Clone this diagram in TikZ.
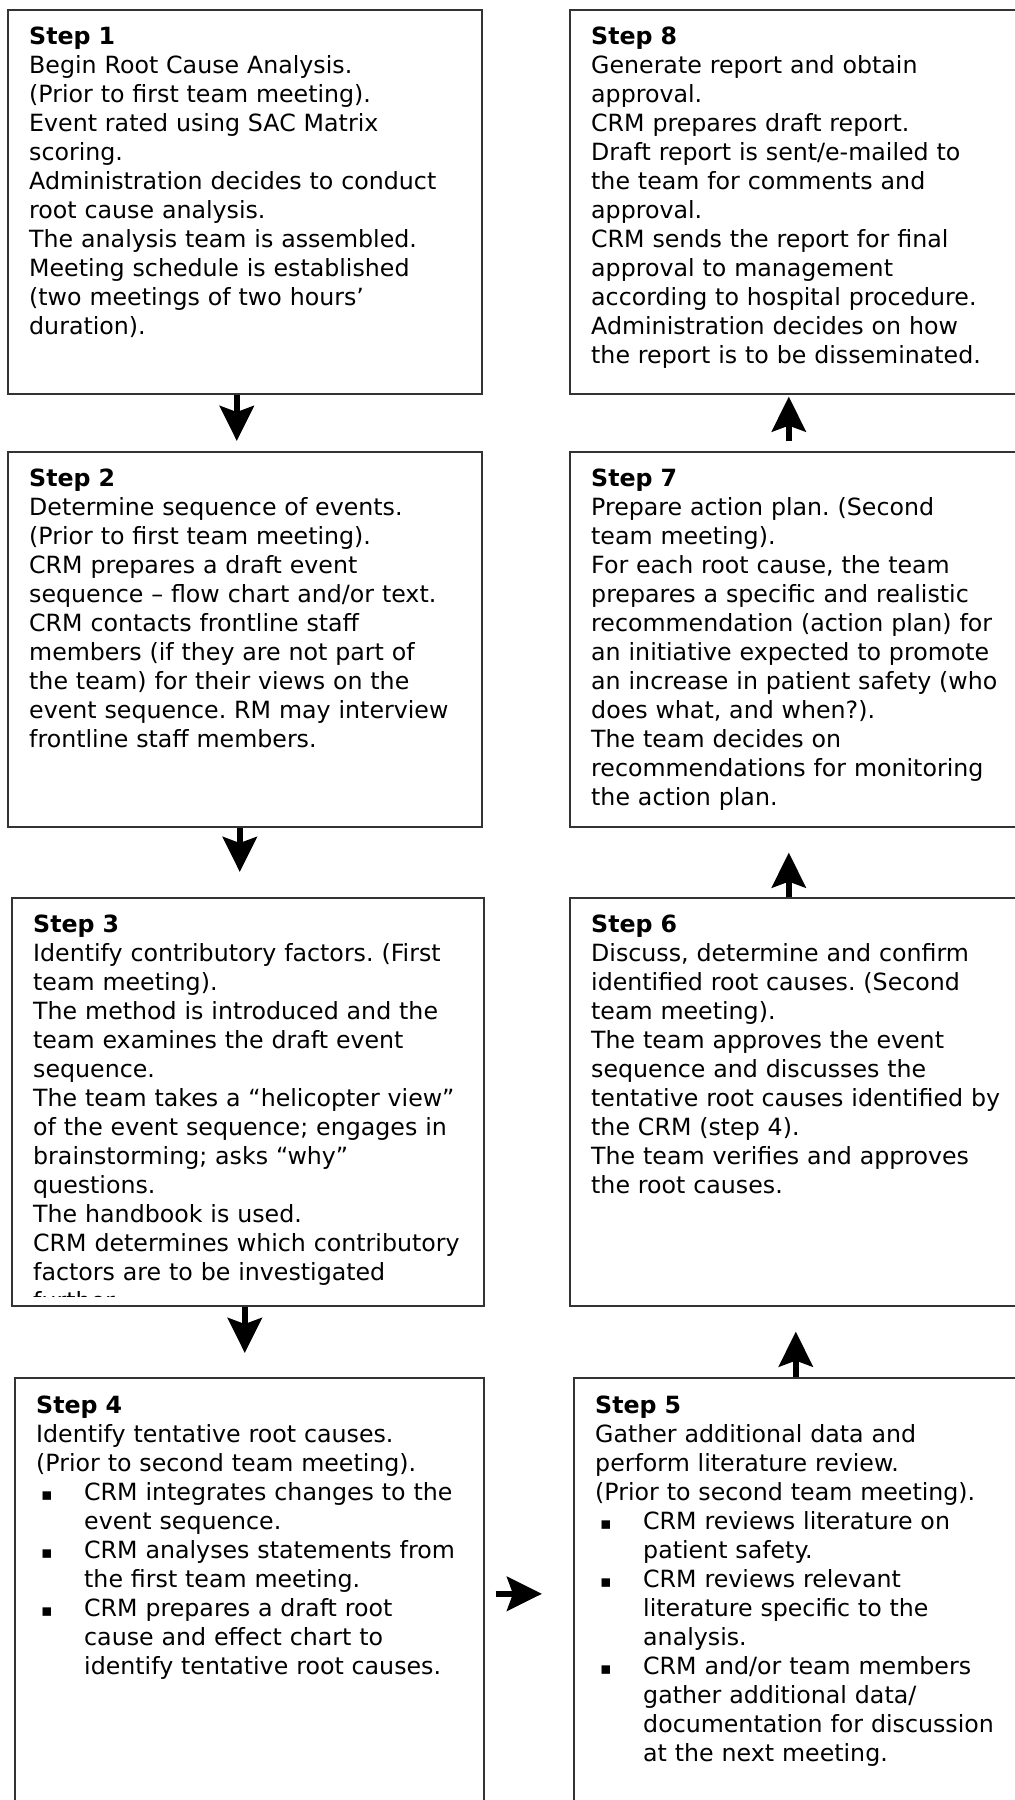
\documentclass[tikz,border=0pt]{standalone}
\usepackage{fontspec}
\setmainfont{DejaVu Sans}
\usetikzlibrary{arrows.meta}
\frenchspacing

\newcommand{\sqbul}{\hspace*{5pt}\makebox[43pt][l]{\fontsize{17}{17}\selectfont ▪}}
\newcommand{\hang}{\hspace*{48pt}}

\begin{document}
\begin{tikzpicture}[
    x=1pt, y=-1pt,
    stepbox/.style={
        draw=black!80,
        line width=1.6pt,
        minimum width=\BW,
        inner sep=0pt,
        anchor=north west,
    },
    steptext/.style={
        anchor=base west,
        inner sep=0pt,
        text width=470pt,
        align=left,
        font=\fontsize{23.7}{29}\selectfont,
    },
    flow/.style={
        line width=6pt,
        -{Stealth[length=35pt,width=34pt,inset=6pt]},
    },
]

\def\BW{474pt}      %width of the boxes
\def\TX{22pt}       %text indent
\def\TY{-35pt}      %first baseline below the box top

\path[use as bounding box,fill=white] (0,0) rectangle (1015,1800);
\clip (0,0) rectangle (1015,1800);

% boxes, left column goes down, right column goes up
\node[stepbox,minimum height=384pt] (s1) at (7,9)      {};
\node[stepbox,minimum height=375pt] (s2) at (7,451)    {};
\node[stepbox,minimum height=408pt,minimum width=472pt] (s3) at (11,897) {};
\node[stepbox,minimum height=432pt,minimum width=469pt] (s4) at (14,1377) {};
\node[stepbox,minimum height=432pt] (s5) at (573,1377) {};
\node[stepbox,minimum height=408pt] (s6) at (569,897)  {};
\node[stepbox,minimum height=375pt] (s7) at (569,451)  {};
\node[stepbox,minimum height=384pt] (s8) at (569,9)    {};

\node[steptext] (t1) at ([shift={(\TX,\TY)}]s1.north west) {\textbf{Step 1}\\
Begin Root Cause Analysis.\\
(Prior to first team meeting).\\
Event rated using SAC Matrix\\
scoring.\\
Administration decides to conduct\\
root cause analysis.\\
The analysis team is assembled.\\
Meeting schedule is established\\
(two meetings of two hours’\\
duration).};

\node[steptext] (t2) at ([shift={(\TX,\TY)}]s2.north west) {\textbf{Step 2}\\
Determine sequence of events.\\
(Prior to first team meeting).\\
CRM prepares a draft event\\
sequence – flow chart and/or text.\\
CRM contacts frontline staff\\
members (if they are not part of\\
the team) for their views on the\\
event sequence. RM may interview\\
frontline staff members.};

% step 3 runs over its box and is cut off
\begin{scope}
\clip (s3.north west) rectangle ([yshift=10pt]s3.south east);
\node[steptext] (t3) at ([shift={(\TX,\TY)}]s3.north west) {\textbf{Step 3}\\
Identify contributory factors. (First\\
team meeting).\\
The method is introduced and the\\
team examines the draft event\\
sequence.\\
The team takes a “helicopter view”\\
of the event sequence; engages in\\
brainstorming; asks “why”\\
questions.\\
The handbook is used.\\
CRM determines which contributory\\
factors are to be investigated\\
further.};
\end{scope}

\node[steptext] (t4) at ([shift={(\TX,-36pt)}]s4.north west) {\textbf{Step 4}\\
Identify tentative root causes.\\
(Prior to second team meeting).\\
\sqbul CRM integrates changes to the\\
\hang event sequence.\\
\sqbul CRM analyses statements from\\
\hang the first team meeting.\\
\sqbul CRM prepares a draft root\\
\hang cause and effect chart to\\
\hang identify tentative root causes.};

\node[steptext] (t5) at ([shift={(\TX,-36pt)}]s5.north west) {\textbf{Step 5}\\
Gather additional data and\\
perform literature review.\\
(Prior to second team meeting).\\
\sqbul CRM reviews literature on\\
\hang patient safety.\\
\sqbul CRM reviews relevant\\
\hang literature specific to the\\
\hang analysis.\\
\sqbul CRM and/or team members\\
\hang gather additional data/\\
\hang documentation for discussion\\
\hang at the next meeting.};

\node[steptext] (t6) at ([shift={(\TX,\TY)}]s6.north west) {\textbf{Step 6}\\
Discuss, determine and confirm\\
identified root causes. (Second\\
team meeting).\\
The team approves the event\\
sequence and discusses the\\
tentative root causes identified by\\
the CRM (step 4).\\
The team verifies and approves\\
the root causes.};

\node[steptext] (t7) at ([shift={(\TX,\TY)}]s7.north west) {\textbf{Step 7}\\
Prepare action plan. (Second\\
team meeting).\\
For each root cause, the team\\
prepares a specific and realistic\\
recommendation (action plan) for\\
an initiative expected to promote\\
an increase in patient safety (who\\
does what, and when?).\\
The team decides on\\
recommendations for monitoring\\
the action plan.};

\node[steptext] (t8) at ([shift={(\TX,\TY)}]s8.north west) {\textbf{Step 8}\\
Generate report and obtain\\
approval.\\
CRM prepares draft report.\\
Draft report is sent/e-mailed to\\
the team for comments and\\
approval.\\
CRM sends the report for final\\
approval to management\\
according to hospital procedure.\\
Administration decides on how\\
the report is to be disseminated.};

% arrows
\draw[flow,shorten >=10pt] ([xshift=-8pt]s1.south) -- ([xshift=-8pt]s2.north);
\draw[flow,shorten >=25pt] ([xshift=-5pt]s2.south) -- ([xshift=-5pt]s2.south |- s3.north);
\draw[flow,shorten >=24pt] ([xshift=-3pt]s3.south) -- ([xshift=-3pt]s3.south |- s4.north);
\draw[flow,shorten <=11pt,shorten >=31pt] (s4.east) -- (s5.west);
\draw[flow,shorten >=25pt] ([xshift=-15pt]s5.north) -- ([xshift=-15pt]s5.north |- s6.south);
\draw[flow,shorten >=25pt] ([xshift=-18pt]s6.north) -- ([xshift=-18pt]s6.north |- s7.south);
\draw[flow,shorten <=10pt,shorten >=2pt] ([xshift=-18pt]s7.north) -- ([xshift=-18pt]s7.north |- s8.south);

\end{tikzpicture}
\end{document}
